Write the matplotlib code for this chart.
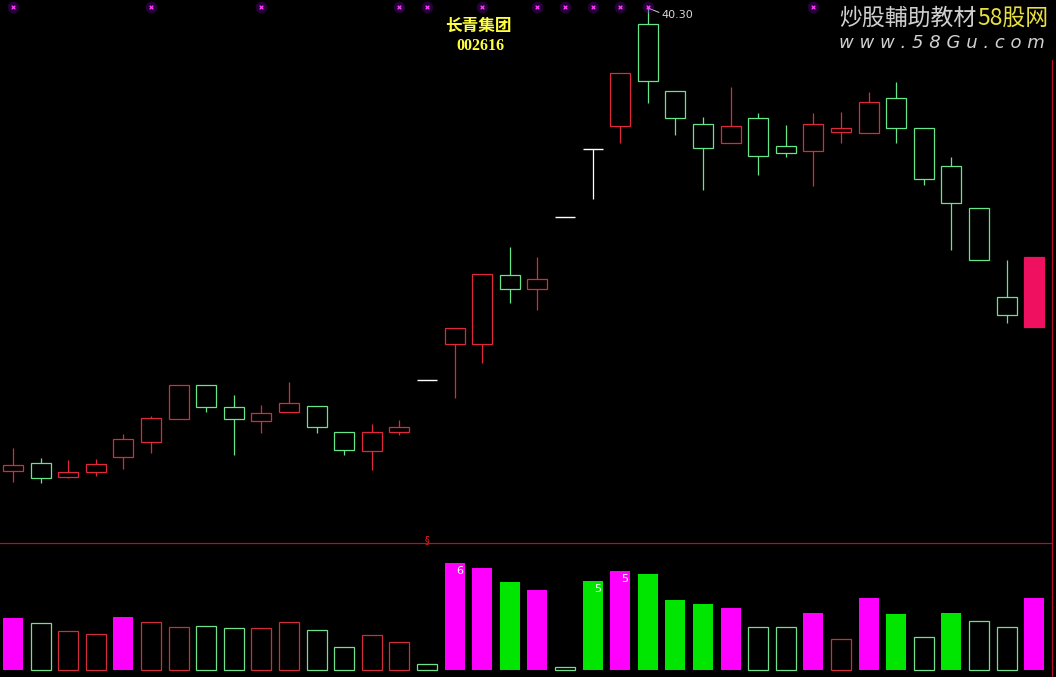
import numpy as np
import matplotlib
matplotlib.use('Agg')
import matplotlib.pyplot as plt
from matplotlib.lines import Line2D
from matplotlib.patches import Rectangle

plt.rcParams['font.family'] = ['Noto Sans CJK SC', 'DejaVu Sans']

# daily candles (yuan)
opens = [19.31, 19.67, 19.04, 19.26, 19.94, 20.62, 21.67, 23.21, 22.21, 21.58,
         21.98, 22.26, 21.08, 20.22, 21.08, 23.43, 25.07, 25.07, 28.19, 27.56,
         30.82, 33.91, 34.95, 39.57, 36.53, 35.04, 34.18, 35.31, 34.04, 33.82,
         34.68, 34.63, 36.22, 34.86, 33.14, 31.23, 27.20, 25.84]
highs = [20.35, 19.90, 19.81, 19.85, 20.99, 21.80, 23.21, 23.21, 22.75, 22.30,
         23.34, 22.26, 21.08, 21.44, 21.62, 23.43, 25.79, 28.24, 29.46, 29.01,
         30.82, 33.91, 37.35, 40.30, 36.53, 35.36, 36.72, 35.54, 34.99, 35.54,
         35.58, 36.49, 36.94, 34.86, 33.54, 31.23, 28.87, 29.01]
lows = [18.81, 18.77, 18.99, 19.08, 19.40, 20.13, 21.67, 21.98, 20.03, 21.03,
        21.98, 21.03, 20.03, 19.35, 20.94, 23.43, 22.62, 24.21, 26.93, 26.61,
        30.82, 31.64, 34.18, 35.99, 34.54, 32.05, 34.18, 32.73, 33.54, 32.23,
        34.18, 34.63, 34.18, 32.27, 29.33, 28.87, 26.02, 25.84]
closes = [19.58, 18.99, 19.26, 19.63, 20.76, 21.71, 23.21, 22.21, 21.67, 21.94,
          22.39, 21.30, 20.26, 21.08, 21.30, 23.43, 25.79, 28.24, 27.56, 28.01,
          30.82, 33.91, 37.35, 36.99, 35.31, 33.95, 34.95, 33.59, 33.72, 35.04,
          34.86, 36.04, 34.86, 32.55, 31.46, 28.87, 26.38, 29.01]

volume = [52, 47, 39, 36, 53, 48, 43, 44, 42, 42, 48, 40, 23, 35, 28, 6, 107, 102,
          88, 80, 3, 89, 99, 96, 70, 66, 62, 43, 43, 57, 31, 72, 56, 33, 57, 49, 43, 72]
# M = magenta solid, G = green solid, r = red hollow, g = green hollow
vol_style = ['M', 'g', 'r', 'r', 'M', 'r', 'r', 'g', 'g', 'r', 'r', 'g', 'g', 'r',
             'r', 'g', 'M', 'M', 'G', 'M', 'g', 'G', 'M', 'G', 'G', 'G', 'M', 'g',
             'g', 'M', 'r', 'M', 'G', 'g', 'G', 'g', 'g', 'M']
vol_tag_idx = [16, 21, 22]
vol_tag_txt = ['6', '5', '5']
top_marks = [0, 5, 9, 14, 15, 17, 19, 20, 21, 22, 23, 29]

stock_name = '长青集团'
stock_code = '002616'
peak_label = '40.30'

RED = '#e0283c'
GREEN = '#66e68a'
W = 1056
H = 677
n = len(opens)
x = np.arange(n)
bw = 0.72
xlim = (-13 / 27.6, (W - 13) / 27.6)

fig = plt.figure(figsize=(W / 100, H / 100), dpi=100, facecolor='black')

# price panel
ax = fig.add_axes([0, (H - 543) / H, 1, 543 / H], facecolor='black')
ax.set_xlim(*xlim)
ax.set_ylim(40.66 - 0.04533 * 543, 40.66)
ax.axis('off')

for i in range(n):
    o, h, l, c = opens[i], highs[i], lows[i], closes[i]
    if i == n - 1:
        col, fill = '#f01060', '#f01060'
    elif c > o:
        col, fill = RED, 'black'
    elif c < o:
        col, fill = GREEN, 'black'
    else:
        col, fill = 'white', 'black'
    ax.vlines(i, l, h, color=col, lw=0.9, zorder=2)
    if c != o:
        ax.add_patch(Rectangle((i - bw / 2, min(o, c)), bw, abs(c - o),
                               facecolor=fill, edgecolor=col, lw=0.9, zorder=3))
    else:
        ax.hlines(c, i - bw / 2, i + bw / 2, color=col, lw=1.0, zorder=3)

# markers along the top
ytop = ax.get_xaxis_transform()
ax.scatter(top_marks, [1 - 7 / 543] * len(top_marks), transform=ytop,
           s=70, color='#7000a0', alpha=0.35, lw=0, zorder=4)
ax.scatter(top_marks, [1 - 7 / 543] * len(top_marks), transform=ytop,
           s=7, marker='x', color='#ff40ff', lw=0.9, zorder=5)

pk = int(np.argmax(highs))
ax.plot([pk, pk + 0.4], [highs[pk], highs[pk] - 0.2], color='#d0d0d0', lw=0.7)
ax.text(pk + 0.5, highs[pk] - 0.3, peak_label, color='#d8d8d8', fontsize=8,
        ha='left', va='center', family='DejaVu Sans')

# volume panel
ax2 = fig.add_axes([0, 0, 1, 134 / H], facecolor='black')
ax2.set_xlim(*xlim)
ax2.set_ylim(-7, 127)
ax2.axis('off')
styles = {'M': dict(color='#ff00ff'),
          'G': dict(color='#00e600'),
          'r': dict(facecolor='none', edgecolor='#d02c3c', lw=0.9),
          'g': dict(facecolor='none', edgecolor='#70e090', lw=0.9)}
for s in styles:
    idx = [i for i in range(n) if vol_style[i] == s]
    ax2.bar(idx, [volume[i] for i in idx], width=bw, **styles[s])
for i, t in zip(vol_tag_idx, vol_tag_txt):
    ax2.text(i + 0.18, volume[i] - 8, t, color='white', fontsize=8,
             ha='center', va='center', family='DejaVu Sans')
ax2.text(15, 127 + 3, '§', color='#ff2020', fontsize=7, ha='center', va='center',
         family='DejaVu Sans', clip_on=False)

# frame lines
fig.add_artist(Line2D([0, 1052 / W], [134 / H, 134 / H], color='#b0102a', lw=0.9))
fig.add_artist(Line2D([1052 / W, 1052 / W], [0, (H - 60) / H], color='#b0102a', lw=0.9))

# title
fig.text(478 / W, 1 - 26 / H, stock_name, color='#ffff40', fontsize=12,
         weight='bold', ha='center', va='center')
fig.text(480 / W, 1 - 46 / H, stock_code, color='#ffff40', fontsize=11.5,
         weight='bold', ha='center', va='center', family='Liberation Serif')

# site watermark
fig.text(976 / W, 1 - 18 / H, '炒股輔助教材', color='#d0d0d0', fontsize=16.5,
         ha='right', va='center')
fig.text(977 / W, 1 - 18 / H, '58股网', color='#e8e040', fontsize=16.5,
         ha='left', va='center')
fig.text(1045 / W, 1 - 43 / H, 'w w w . 5 8 G u . c o m', color='#d0d0d0',
         fontsize=13, style='italic', ha='right', va='center', family='DejaVu Sans')

fig.savefig('out.png', dpi=100, facecolor='black')
